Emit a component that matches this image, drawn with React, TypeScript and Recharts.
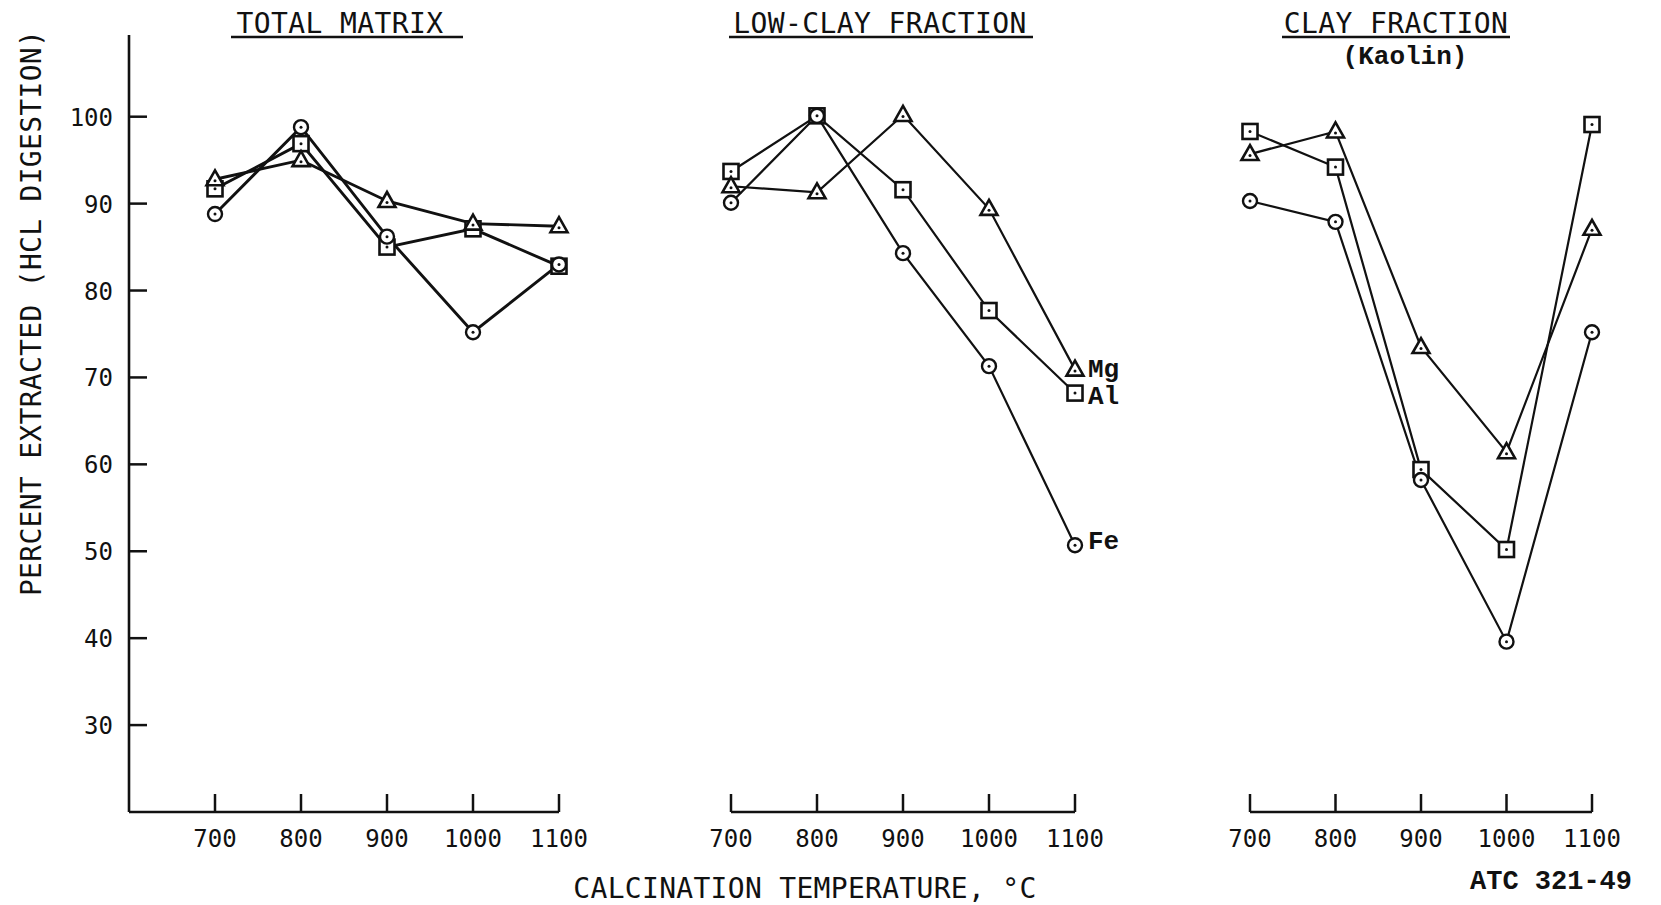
import React from 'react';
import { LineChart, Line, XAxis, YAxis, LabelList } from 'recharts';

// calcination temperature, deg C
const temps = [700, 800, 900, 1000, 1100];
const yTicks = [30, 40, 50, 60, 70, 80, 90, 100];

// TOTAL MATRIX
const totalFe = [88.8, 98.8, 86.2, 75.2, 83.0];
const totalAl = [91.7, 96.9, 85.0, 87.1, 82.8];
const totalMg = [92.8, 95.0, 90.3, 87.7, 87.4];

// LOW-CLAY FRACTION
const lowFe = [90.1, 100.1, 84.3, 71.3, 50.7];
const lowAl = [93.7, 100.1, 91.6, 77.7, 68.2];
const lowMg = [92.0, 91.3, 100.2, 89.4, 70.9];

// CLAY FRACTION (Kaolin)
const clayFe = [90.3, 87.9, 58.2, 39.6, 75.2];
const clayAl = [98.3, 94.2, 59.4, 50.2, 99.1];
const clayMg = [95.7, 98.3, 73.5, 61.4, 87.1];

const toRows = (fe: number[], al: number[], mg: number[]) =>
  temps.map((t, i) => ({ t, fe: fe[i], al: al[i], mg: mg[i] }));

const SANS = '"DejaVu Sans Mono", monospace';
const COURIER = '"Liberation Mono", "Courier New", monospace';
const INK = '#111';

type Shape = 'circle' | 'square' | 'triangle';

const Marker = ({ cx, cy, shape }: { cx: number; cy: number; shape: Shape }) => {
  if (cx == null || cy == null) return null;
  let outline;
  let dy = 0;
  if (shape === 'circle') {
    outline = <circle cx={cx} cy={cy} r={7} fill="#fff" stroke={INK} strokeWidth={2.4} />;
  } else if (shape === 'square') {
    outline = <rect x={cx - 7.5} y={cy - 7.5} width={15} height={15} fill="#fff" stroke={INK} strokeWidth={2.6} />;
  } else {
    outline = (
      <polygon
        points={`${cx},${cy - 9} ${cx - 8.5},${cy + 6} ${cx + 8.5},${cy + 6}`}
        fill="#fff"
        stroke={INK}
        strokeWidth={2.6}
        strokeLinejoin="miter"
      />
    );
    dy = 1.5;
  }
  return (
    <g>
      {outline}
      <circle cx={cx} cy={cy + dy} r={1.5} fill={INK} />
    </g>
  );
};

const dotFor = (shape: Shape) => (p: any) => <Marker key={`${shape}-${p.index}`} cx={p.cx} cy={p.cy} shape={shape} />;

const XTick = (props: any) => {
  const { x, y, payload } = props;
  return (
    <g>
      <line x1={x} y1={y} x2={x} y2={y - 18} stroke={INK} strokeWidth={2.5} />
      <text x={x} y={y + 35} textAnchor="middle" fontFamily={SANS} fontSize={24} fill={INK}>
        {payload.value}
      </text>
    </g>
  );
};

const YTick = (props: any) => {
  const { x, y, payload } = props;
  return (
    <g>
      <line x1={x} y1={y} x2={x + 18} y2={y} stroke={INK} strokeWidth={2.5} />
      <text x={x - 16} y={y + 9} textAnchor="end" fontFamily={SANS} fontSize={24} fill={INK}>
        {payload.value}
      </text>
    </g>
  );
};

const endLabel = (text: string, dy: number) => (props: any) => {
  if (props.index !== temps.length - 1) return null;
  const x = props.x ?? props.viewBox?.x;
  const y = props.y ?? props.viewBox?.y;
  return (
    <text x={x + 13} y={y + dy} fontFamily={COURIER} fontWeight="bold" fontSize={26} fill={INK}>
      {text}
    </text>
  );
};

const Series = (lw: number, labels: boolean) => [
  <Line key="al" dataKey="al" type="linear" stroke={INK} strokeWidth={lw} dot={dotFor('square')} activeDot={false} isAnimationActive={false}>
    {labels && <LabelList dataKey="al" content={endLabel('Al', 11)} />}
  </Line>,
  <Line key="mg" dataKey="mg" type="linear" stroke={INK} strokeWidth={lw} dot={dotFor('triangle')} activeDot={false} isAnimationActive={false}>
    {labels && <LabelList dataKey="mg" content={endLabel('Mg', 7)} />}
  </Line>,
  <Line key="fe" dataKey="fe" type="linear" stroke={INK} strokeWidth={lw} dot={dotFor('circle')} activeDot={false} isAnimationActive={false}>
    {labels && <LabelList dataKey="fe" content={endLabel('Fe', 4)} />}
  </Line>,
];

const H = 905;
const Y_DOMAIN: [number, number] = [20, 109.4];
const PLOT_TOP = 35;
const X_AXIS_H = 60;
const PLOT_BOTTOM = 812;
const bottomMargin = H - PLOT_BOTTOM - X_AXIS_H;

export default function App() {
  return (
    <div style={{ position: 'absolute', left: 0, top: 0, width: 1661, height: H, background: '#fff', overflow: 'hidden' }}>
      {/* TOTAL MATRIX */}
      <div style={{ position: 'absolute', left: 0, top: 0 }}>
        <LineChart width={600} height={H} data={toRows(totalFe, totalAl, totalMg)} margin={{ top: PLOT_TOP, right: 41, bottom: bottomMargin, left: 0 }}>
          <XAxis
            dataKey="t"
            type="number"
            domain={[600, 1100]}
            ticks={temps}
            height={X_AXIS_H}
            tickSize={0}
            tickMargin={0}
            tickLine={false}
            tick={<XTick />}
            axisLine={{ stroke: INK, strokeWidth: 2.6 }}
          />
          <YAxis
            type="number"
            domain={Y_DOMAIN}
            ticks={yTicks}
            width={129}
            tickSize={0}
            tickMargin={0}
            tickLine={false}
            tick={<YTick />}
            axisLine={{ stroke: INK, strokeWidth: 2.6 }}
          />
          {Series(2.9, false)}
        </LineChart>
      </div>

      {/* LOW-CLAY FRACTION */}
      <div style={{ position: 'absolute', left: 600, top: 0 }}>
        <LineChart width={560} height={H} data={toRows(lowFe, lowAl, lowMg)} margin={{ top: PLOT_TOP, right: 85, bottom: bottomMargin, left: 131 }}>
          <XAxis
            dataKey="t"
            type="number"
            domain={[700, 1100]}
            ticks={temps}
            height={X_AXIS_H}
            tickSize={0}
            tickMargin={0}
            tickLine={false}
            tick={<XTick />}
            axisLine={{ stroke: INK, strokeWidth: 2.6 }}
          />
          <YAxis type="number" domain={Y_DOMAIN} hide />
          {Series(2.2, true)}
        </LineChart>
      </div>

      {/* CLAY FRACTION (Kaolin) */}
      <div style={{ position: 'absolute', left: 1160, top: 0 }}>
        <LineChart width={501} height={H} data={toRows(clayFe, clayAl, clayMg)} margin={{ top: PLOT_TOP, right: 69, bottom: bottomMargin, left: 90 }}>
          <XAxis
            dataKey="t"
            type="number"
            domain={[700, 1100]}
            ticks={temps}
            height={X_AXIS_H}
            tickSize={0}
            tickMargin={0}
            tickLine={false}
            tick={<XTick />}
            axisLine={{ stroke: INK, strokeWidth: 2.6 }}
          />
          <YAxis type="number" domain={Y_DOMAIN} hide />
          {Series(2.2, false)}
        </LineChart>
      </div>

      {/* titles and axis captions */}
      <svg width={1661} height={H} style={{ position: 'absolute', left: 0, top: 0, pointerEvents: 'none' }}>
        <g fontFamily={SANS} fontSize={28} fill={INK} textAnchor="middle">
          <text x={340} y={33} letterSpacing={0.4}>TOTAL MATRIX</text>
          <line x1={231} y1={37} x2={463} y2={37} stroke={INK} strokeWidth={2.5} />
          <text x={880} y={33} letterSpacing={0.4}>LOW-CLAY FRACTION</text>
          <line x1={729} y1={37} x2={1033} y2={37} stroke={INK} strokeWidth={2.5} />
          <text x={1396} y={33} letterSpacing={0.4}>CLAY FRACTION</text>
          <line x1={1282} y1={37} x2={1510} y2={37} stroke={INK} strokeWidth={2.5} />
          <text transform="translate(31,313) rotate(-90)" dy="0.36em" letterSpacing={0.3}>
            PERCENT EXTRACTED (HCL DIGESTION)
          </text>
          <text x={805} y={898} letterSpacing={0.3}>CALCINATION TEMPERATURE, °C</text>
        </g>
        <g fontFamily={COURIER} fontWeight="bold" fill={INK}>
          <text x={1405} y={64} fontSize={26} textAnchor="middle">(Kaolin)</text>
          <text x={1470} y={889} fontSize={27}>ATC 321-49</text>
        </g>
      </svg>
    </div>
  );
}
